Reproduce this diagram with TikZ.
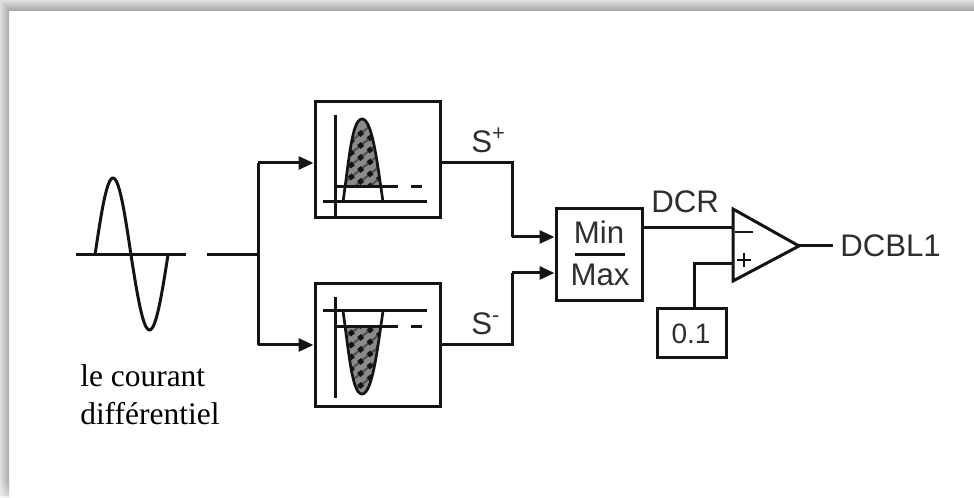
\documentclass[tikz,border=0pt]{standalone}
\usepackage{fontspec}
\setmainfont{Liberation Serif}
\setsansfont{Liberation Sans}
\usetikzlibrary{arrows.meta}
\definecolor{inkline}{HTML}{141414}
\definecolor{sanstext}{HTML}{2E2E2E}
\definecolor{hatchfill}{HTML}{8A8A8A}
\def\pxu{0.75pt}
\tikzset{
  wire/.style={draw=inkline,line width=3*\pxu},
  thin wire/.style={draw=inkline,line width=2.7*\pxu},
  feed/.style={wire,-{Triangle[length=15*\pxu,width=13*\pxu]}},
  blockbox/.style={draw=inkline,line width=3*\pxu,fill=white,inner sep=0pt},
  lab/.style={font=\fontsize{23.4pt}{27pt}\selectfont\sffamily,text=sanstext,inner sep=0pt},
  caption/.style={font=\fontsize{23.6pt}{28pt}\selectfont\rmfamily,text=black,inner sep=0pt,anchor=base west},
}
\begin{document}
\begin{tikzpicture}[x=0.75pt,y=-0.75pt]
\useasboundingbox (0,0) rectangle (974,498);
% page shadow
\fill[white] (0,0) rectangle (974,498);
\shade[top color=black!12,bottom color=black!36] (0,0) rectangle (974,11);
\begin{scope}
\clip (0,0) -- (9,11) -- (9,498) -- (0,498) -- cycle;
\shade[left color=black!12,right color=black!34] (0,0) rectangle (9,498);
\end{scope}
\foreach \k in {0,...,6}{
  \fill[white,fill opacity=0.1+0.07*\k] (0,{484+2*\k}) rectangle (9,{486+2*\k});
}
\fill[white,fill opacity=0.55] (0,498) rectangle (9,496);

% blocks
\node[blockbox,minimum width=125*\pxu,minimum height=116*\pxu] (box1) at (377.5,160) {};
\node[blockbox,minimum width=125*\pxu,minimum height=123*\pxu] (box2) at (377.5,345.5) {};
\node[blockbox,minimum width=86*\pxu,minimum height=92*\pxu] (minmax) at (599,255) {};
\node[blockbox,minimum width=69*\pxu,minimum height=49*\pxu] (ref) at (691.5,333.5) {};
\node[lab,anchor=base,font=\fontsize{21pt}{25pt}\selectfont\sffamily] (reftext) at (691,344) {0.1};
\node[lab,anchor=base] (mintext) at (599,244) {Min};
\node[lab,anchor=base] (maxtext) at (600,286) {Max};
\coordinate (barl) at (575,255);
\coordinate (barr) at (625,255);
\draw[wire] (barl) -- (barr);

% comparator
\coordinate (opa) at (733,209);
\coordinate (opb) at (733,281);
\coordinate (opc) at (799,246);
\draw[wire,line join=miter] (opa) -- (opc) -- (opb) -- cycle;
\coordinate (minusl) at (735,232);
\coordinate (minusr) at (753,232);
\draw[thin wire] (minusl) -- (minusr);
\coordinate (plusl) at (737,260);
\coordinate (plusr) at (751,260);
\coordinate (plust) at (744,253);
\coordinate (plusb) at (744,267);
\draw[thin wire] (plusl) -- (plusr) (plust) -- (plusb);

% input waveform
\coordinate (sinel) at (76,255);
\coordinate (siner) at (186,255);
\draw[wire] (sinel) -- (siner);
\draw[wire] plot[domain=0:180,samples=40,smooth] ({95+36*\x/180},{255-77*sin(\x)});
\draw[wire] plot[domain=0:180,samples=40,smooth] ({131+37*\x/180},{255+75*sin(\x)});

% upper graph
\begin{scope}
\clip (330,110) rectangle (400,187);
\fill[hatchfill] (343,202) .. controls (349,160) and (352,119) .. (362,119) .. controls (372,119) and (377,160) .. (383,202) -- cycle;
\clip (343,202) .. controls (349,160) and (352,119) .. (362,119) .. controls (372,119) and (377,160) .. (383,202) -- cycle;
\foreach \d in {-40,-28,...,80}{
  \draw[inkline!75,line width=2*\pxu] (340,{190+\d}) -- (390,{150+\d});
  \draw[inkline,line width=5*\pxu,dash pattern=on 5*\pxu off 7*\pxu] (340,{190+\d}) -- (390,{150+\d});
}
\end{scope}
\coordinate (a1t) at (335,115);
\coordinate (a1b) at (335,216);
\coordinate (a1l) at (323,202);
\coordinate (a1r) at (427,202);
\coordinate (t1l) at (335,187);
\coordinate (t1m) at (398,187);
\coordinate (t1d) at (411,187);
\coordinate (t1e) at (422,187);
\draw[wire] (a1t) -- (a1b) (a1l) -- (a1r) (t1l) -- (t1m) (t1d) -- (t1e);
\draw[thin wire] (343,202) .. controls (349,160) and (352,119) .. (362,119) .. controls (372,119) and (377,160) .. (383,202);

% lower graph
\begin{scope}
\clip (330,327) rectangle (400,400);
\fill[hatchfill] (343,311) .. controls (349,353) and (352,394) .. (362,394) .. controls (372,394) and (377,353) .. (383,311) -- cycle;
\clip (343,311) .. controls (349,353) and (352,394) .. (362,394) .. controls (372,394) and (377,353) .. (383,311) -- cycle;
\foreach \d in {-40,-28,...,80}{
  \draw[inkline!75,line width=2*\pxu] (340,{370+\d}) -- (390,{330+\d});
  \draw[inkline,line width=5*\pxu,dash pattern=on 5*\pxu off 7*\pxu] (340,{370+\d}) -- (390,{330+\d});
}
\end{scope}
\coordinate (a2t) at (335,297);
\coordinate (a2b) at (335,398);
\coordinate (a2l) at (323,311);
\coordinate (a2r) at (427,311);
\coordinate (t2l) at (335,327);
\coordinate (t2m) at (398,327);
\coordinate (t2d) at (411,327);
\coordinate (t2e) at (422,327);
\draw[wire] (a2t) -- (a2b) (a2l) -- (a2r) (t2l) -- (t2m) (t2d) -- (t2e);
\draw[thin wire] (343,311) .. controls (349,353) and (352,394) .. (362,394) .. controls (372,394) and (377,353) .. (383,311);

% connectors
\coordinate (instart) at (207,255);
\coordinate (split) at (258,255);
\coordinate (splitup) at (258,163);
\coordinate (splitdn) at (258,345);
\coordinate (upbend) at (512,163);
\coordinate (dnbend) at (512,345);
\coordinate (upin) at (512,237);
\coordinate (dnin) at (512,273);
\coordinate (dcrend) at (733,228);
\coordinate (refbend) at (694,264);
\coordinate (refend) at (733,264);
\coordinate (outend) at (833,246);
\draw[wire] (instart) -- (split);
\draw[wire] (splitup) -- (splitdn);
\draw[feed] (splitup) -- (splitup -| box1.west);
\draw[feed] (splitdn) -- (splitdn -| box2.west);
\draw[wire] (upbend -| box1.east) -- (upbend) -- (upin);
\draw[wire] (dnbend -| box2.east) -- (dnbend) -- (dnin);
\draw[feed] (upin) -- (upin -| minmax.west);
\draw[feed] (dnin) -- (dnin -| minmax.west);
\draw[wire] (dcrend -| minmax.east) -- (dcrend);
\draw[wire] (refbend |- ref.north) -- (refbend) -- (refend);
\draw[wire] (opc) -- (outend);

% labels
\node[lab,anchor=base west] (splus) at (471,153) {S\textsuperscript{+}};
\node[lab,anchor=base west] (sminus) at (471,335) {S\textsuperscript{-}};
\node[lab,anchor=base west] (dcr) at (651,213) {DCR};
\node[lab,anchor=base west] (dcbl) at (840,257) {DCBL1};
\node[caption] (cap1) at (80,387) {le courant};
\node[caption] (cap2) at (80,425) {différentiel};
\end{tikzpicture}
\end{document}
